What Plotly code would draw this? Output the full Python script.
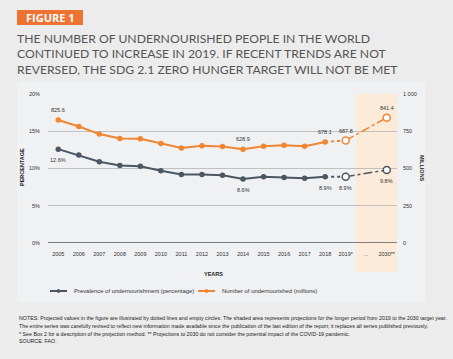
import plotly.graph_objects as go

hist_years = ["2005", "2006", "2007", "2008", "2009", "2010", "2011", "2012", "2013",
              "2014", "2015", "2016", "2017", "2018"]
proj_years = ["2019*", "2030**"]
categories = hist_years + ["2019*", "...", "2030**"]

pou_hist = [12.6, 11.8, 10.9, 10.4, 10.3, 9.7, 9.2, 9.2, 9.1, 8.6, 8.9, 8.8, 8.7, 8.9]
pou_proj = [8.9, 9.8]
nou_hist = [825.6, 782, 731, 702, 700, 668, 637, 652, 647, 628.9, 650, 656, 650, 678.1]
nou_proj = [687.8, 841.4]

left_ticks = [0, 5, 10, 15, 20]
left_labels = ["0%", "5%", "10%", "15%", "20%"]
right_ticks = [0, 250, 500, 750, 1000]
right_labels = ["0", "250", "500", "750", "1 000"]

GREY = "#4b5663"
ORANGE = "#f08532"
NARROW = "Liberation Sans Narrow, Liberation Sans, Arial, sans-serif"

W, H = 453, 359
L, R, T, B = 48, 397, 94, 243


def px(x):
    return (x - L) / (R - L)


def py(y):
    return (B - y) / (B - T)


def cx(cat):
    return categories.index(cat)


fig = go.Figure()

fig.add_trace(go.Scatter(x=hist_years, y=pou_hist, mode="lines+markers",
                         line=dict(color=GREY, width=2),
                         marker=dict(color=GREY, size=5.5), yaxis="y",
                         showlegend=False, cliponaxis=False))
fig.add_trace(go.Scatter(x=[hist_years[-1], proj_years[0]], y=[pou_hist[-1], pou_proj[0]],
                         mode="lines", line=dict(color=GREY, width=2, dash="dot"),
                         yaxis="y", showlegend=False))
fig.add_trace(go.Scatter(x=proj_years, y=pou_proj, mode="lines+markers",
                         line=dict(color=GREY, width=1.5, dash="dashdot"),
                         marker=dict(color="white", size=7, line=dict(color=GREY, width=1.5)),
                         yaxis="y", showlegend=False, cliponaxis=False))

fig.add_trace(go.Scatter(x=hist_years, y=nou_hist, mode="lines+markers",
                         line=dict(color=ORANGE, width=2),
                         marker=dict(color=ORANGE, size=5.5), yaxis="y2",
                         showlegend=False, cliponaxis=False))
fig.add_trace(go.Scatter(x=[hist_years[-1], proj_years[0]], y=[nou_hist[-1], nou_proj[0]],
                         mode="lines", line=dict(color=ORANGE, width=2, dash="dot"),
                         yaxis="y2", showlegend=False))
fig.add_trace(go.Scatter(x=proj_years, y=nou_proj, mode="lines+markers",
                         line=dict(color=ORANGE, width=1.5, dash="dashdot"),
                         marker=dict(color="white", size=7, line=dict(color=ORANGE, width=1.5)),
                         yaxis="y2", showlegend=False, cliponaxis=False))

shapes = []
shapes.append(dict(type="rect", xref="paper", yref="paper", layer="below",
                   x0=px(17), x1=px(425), y0=py(302), y1=py(82),
                   fillcolor="#f0f1f3", line=dict(width=0)))
shapes.append(dict(type="rect", xref="x", yref="paper", layer="below",
                   x0=cx("...") - 0.5, x1=len(categories) - 0.5,
                   y0=py(272), y1=1, fillcolor="#fcebd8", line=dict(width=0)))
shapes.append(dict(type="line", xref="paper", yref="y", x0=0, x1=1, y0=0, y1=0,
                   line=dict(color="#7d7d7d", width=2)))
shapes.append(dict(type="rect", xref="paper", yref="paper",
                   x0=px(17), x1=px(83), y0=py(25), y1=py(10),
                   fillcolor="#ee7232", line=dict(width=0)))
for (x0, col) in [(50, GREY), (198, ORANGE)]:
    shapes.append(dict(type="line", xref="paper", yref="paper",
                       x0=px(x0), x1=px(x0 + 17), y0=py(291), y1=py(291),
                       line=dict(color=col, width=2)))
    shapes.append(dict(type="circle", xref="paper", yref="paper",
                       x0=px(x0 + 7), x1=px(x0 + 10), y0=py(292.5), y1=py(289.5),
                       fillcolor=col, line=dict(color=col, width=1)))

ann = []
lab_font = dict(family=NARROW, size=5.5, color="#333333")
label_idx = [0, 9, 13]
for i in label_idx:
    ann.append(dict(x=cx(hist_years[i]), y=nou_hist[i], xref="x", yref="y2",
                    text=f"{nou_hist[i]:.1f}", showarrow=False, yshift=10,
                    xanchor="center", yanchor="middle", font=lab_font))
    ann.append(dict(x=cx(hist_years[i]), y=pou_hist[i], xref="x", yref="y",
                    text=f"{pou_hist[i]:.1f}%", showarrow=False, yshift=-11,
                    xanchor="center", yanchor="middle", font=lab_font))
for j, yr in enumerate(proj_years):
    ann.append(dict(x=cx(yr), y=nou_proj[j], xref="x", yref="y2", text=f"{nou_proj[j]:.1f}",
                    showarrow=False, yshift=10, xanchor="center", yanchor="middle",
                    font=lab_font))
    ann.append(dict(x=cx(yr), y=pou_proj[j], xref="x", yref="y", text=f"{pou_proj[j]:.1f}%",
                    showarrow=False, yshift=-11, xanchor="center", yanchor="middle",
                    font=lab_font))

ann.append(dict(xref="paper", yref="paper", x=px(50), y=py(17.8), text="<b>FIGURE 1</b>",
                xanchor="center", yanchor="middle", showarrow=False,
                font=dict(family="Open Sans, sans-serif", size=11, color="white")))
title_lines = ["THE NUMBER OF UNDERNOURISHED PEOPLE IN THE WORLD",
               "CONTINUED TO INCREASE IN 2019. IF RECENT TRENDS ARE NOT",
               "REVERSED, THE SDG 2.1 ZERO HUNGER TARGET WILL NOT BE MET"]
for k, line in enumerate(title_lines):
    ann.append(dict(xref="paper", yref="paper", x=px(15), y=py(38.5 + 15.5 * k),
                    xanchor="left", yanchor="middle", text=line, showarrow=False,
                    font=dict(family="Lato, sans-serif", size=12.2, color="#555555")))

ax_font = dict(family=NARROW, size=5.5, color="#222222")
ann.append(dict(xref="paper", yref="paper", x=px(22), y=py(167), text="<b>PERCENTAGE</b>",
                textangle=-90, xanchor="center", yanchor="middle", showarrow=False, font=ax_font))
ann.append(dict(xref="paper", yref="paper", x=px(422), y=py(168), text="<b>MILLIONS</b>",
                textangle=90, xanchor="center", yanchor="middle", showarrow=False, font=ax_font))
ann.append(dict(xref="paper", yref="paper", x=px(213), y=py(274), text="<b>YEARS</b>",
                xanchor="center", yanchor="middle", showarrow=False, font=ax_font))

leg_font = dict(family=NARROW, size=5.9, color="#333333")
ann.append(dict(xref="paper", yref="paper", x=px(72), y=py(291), xanchor="left",
                yanchor="middle", text="Prevalence of undernourishment (percentage)",
                showarrow=False, font=leg_font))
ann.append(dict(xref="paper", yref="paper", x=px(220), y=py(291), xanchor="left",
                yanchor="middle", text="Number of undernourished (millions)",
                showarrow=False, font=leg_font))

notes = ["NOTES: Projected values in the figure are illustrated by dotted lines and empty circles. The shaded area represents projections for the longer period from 2019 to the 2030 target year.",
         "The entire series was carefully revised to reflect new information made available since the publication of the last edition of the report; it replaces all series published previously.",
         "* See <span style='background-color:#f7c9a0'>Box 2</span> for a description of the projection method. ** Projections to 2030 do not consider the potential impact of the COVID-19 pandemic.",
         "SOURCE: FAO."]
for k, line in enumerate(notes):
    ann.append(dict(xref="paper", yref="paper", x=px(17), y=py(318 + 7.8 * k),
                    xanchor="left", yanchor="middle", text=line, showarrow=False,
                    font=dict(family=NARROW, size=5.3, color="#222222")))

tick_font = dict(family=NARROW, size=5.5, color="#333333")
fig.update_layout(
    width=W, height=H,
    margin=dict(l=L, r=W - R, t=T, b=H - B, pad=0),
    paper_bgcolor="#ececec", plot_bgcolor="rgba(0,0,0,0)",
    showlegend=False,
    xaxis=dict(type="category", categoryorder="array", categoryarray=categories,
               range=[-0.5, len(categories) - 0.5], tickvals=categories, ticktext=categories,
               showgrid=False, zeroline=False, showline=False, ticks="",
               tickfont=tick_font, ticklabelstandoff=6, automargin=False),
    yaxis=dict(range=[0, 20], tickvals=left_ticks, ticktext=left_labels,
               showgrid=True, gridcolor="#c0c0c0", gridwidth=1, zeroline=False,
               showline=False, ticks="", tickfont=tick_font, ticklabelstandoff=7,
               automargin=False),
    yaxis2=dict(range=[0, 1000], tickvals=right_ticks, ticktext=right_labels,
                overlaying="y", side="right", showgrid=False, zeroline=False,
                showline=False, ticks="", tickfont=tick_font, ticklabelstandoff=5,
                automargin=False),
    shapes=shapes, annotations=ann,
)

fig.write_html("out.html", config={"displayModeBar": False},
               post_script="document.body.style.margin='0px';")
